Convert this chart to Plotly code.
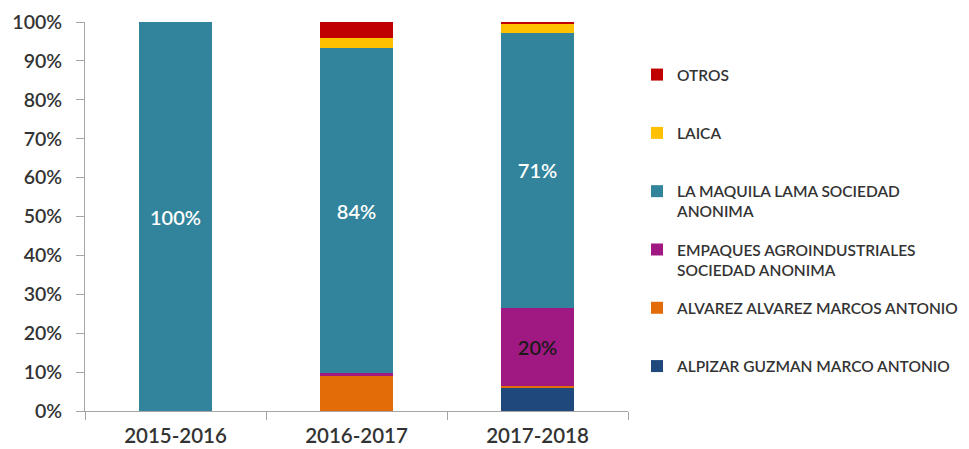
import plotly.graph_objects as go

periodos = ["2015-2016", "2016-2017", "2017-2018"]

alpizar = [0, 0, 5.8]
alvarez = [0, 9.0, 0.6]
empaques = [0, 0.7, 20.0]
maquila = [100, 83.5, 70.9]
laica = [0, 2.6, 2.2]
otros = [0, 4.2, 0.5]

etiquetas_maquila = ["100%", "84%", "71%"]
etiquetas_empaques = ["", "", "20%"]

series = [
    ("ALPIZAR GUZMAN MARCO ANTONIO<br> ", alpizar, "#1F497D", None, None),
    ("ALVAREZ ALVAREZ MARCOS ANTONIO<br> ", alvarez, "#E36C09", None, None),
    ("EMPAQUES AGROINDUSTRIALES<br>SOCIEDAD ANONIMA", empaques, "#A01882",
     etiquetas_empaques, "#1A1A1A"),
    ("LA MAQUILA LAMA SOCIEDAD<br>ANONIMA", maquila, "#31849B",
     etiquetas_maquila, "white"),
    ("LAICA<br> ", laica, "#FFC000", None, None),
    ("OTROS<br> ", otros, "#C00000", None, None),
]

fig = go.Figure()
for i, (nombre, valores, color, etiquetas, color_txt) in enumerate(series):
    fig.add_trace(
        go.Bar(
            x = periodos,
            y = valores,
            name = nombre,
            legendgroup = "g%d" % i,
            legendrank = 1000 - i,
            marker = dict(color = color, line = dict(width = 0)),
            text = etiquetas,
            textposition = "inside" if etiquetas else "none",
            insidetextanchor = "middle",
            textangle = 0,
            textfont = dict(color = color_txt, size = 20, family = "Lato", weight = 600),
        )
    )

# el navegador deja 8px de margen en el body
fig.update_layout(
    barmode = "stack",
    bargap = 0.6,
    width = 969,
    height = 449,
    margin = dict(l = 77, r = 349, t = 14, b = 46),
    plot_bgcolor = "white",
    paper_bgcolor = "white",
    font = dict(family = "Lato", color = "#333333"),
    uniformtext = dict(mode = "show", minsize = 10),
    legend = dict(
        traceorder = "grouped",
        xref = "container",
        yref = "container",
        x = 629 / 969,
        y = 1 - 50 / 449,
        xanchor = "left",
        yanchor = "top",
        valign = "top",
        font = dict(size = 15.5, color = "#333333", weight = 600),
        tracegroupgap = 15,
        itemwidth = 30,
        maxheight = 400,
    ),
)

fig.update_yaxes(
    range = [0, 100],
    dtick = 10,
    ticksuffix = "%",
    showgrid = False,
    showline = True,
    linecolor = "#A6A6A6",
    ticks = "outside",
    ticklen = 8,
    tickcolor = "#A6A6A6",
    tickfont = dict(size = 19.5, weight = 600),
    ticklabelstandoff = 10,
    automargin = False,
)

fig.update_xaxes(
    showline = True,
    linecolor = "#A6A6A6",
    ticks = "outside",
    tickson = "boundaries",
    ticklen = 8,
    tickcolor = "#A6A6A6",
    tickfont = dict(size = 20.5, weight = 600),
    ticklabelstandoff = 6,
    automargin = False,
)

fig.write_html("out.html")
